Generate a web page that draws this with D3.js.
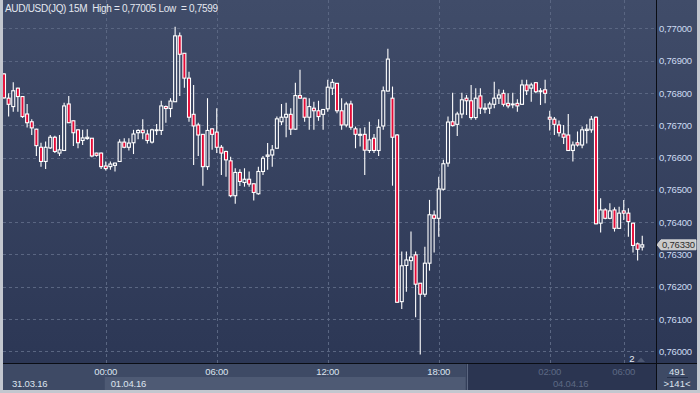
<!DOCTYPE html>
<html>
<head>
<meta charset="utf-8">
<script src="https://cdn.jsdelivr.net/npm/d3@7"></script>
<style>
body { margin: 0; background: #c3c7cf; }
text { font-family: "Liberation Sans", Arial, sans-serif; }
</style>
</head>
<body>
<div id="chart"></div>
<script>
// AUD/USD 15M candles (index 0 = first visible bar)
var opens = [0.76859,0.76784,0.76758,0.76815,0.76789,0.76735,0.76711,0.76688,0.76632,0.76588,
  0.76630,0.76663,0.76614,0.76622,0.76766,0.76714,0.76686,0.76653,0.76659,0.76660,
  0.76614,0.76614,0.76574,0.76572,0.76576,0.76588,0.76648,0.76632,0.76646,0.76677,
  0.76685,0.76673,0.76648,0.76684,0.76684,0.76758,0.76752,0.76773,0.76977,0.76923,
  0.76846,0.76734,0.76701,0.76672,0.76572,0.76689,0.76679,0.76632,0.76619,0.76590,
  0.76482,0.76554,0.76523,0.76533,0.76519,0.76488,0.76557,0.76604,0.76608,0.76629,
  0.76711,0.76725,0.76734,0.76688,0.76792,0.76784,0.76725,0.76753,0.76745,0.76734,
  0.76751,0.76815,0.76830,0.76745,0.76701,0.76766,0.76689,0.76669,0.76672,0.76622,
  0.76660,0.76622,0.76698,0.76806,0.76784,0.76670,0.76154,0.76266,0.76281,0.76299,
  0.76211,0.76177,0.76273,0.76422,0.76412,0.76502,0.76583,0.76711,0.76703,0.76735,
  0.76784,0.76776,0.76724,0.76791,0.76750,0.76753,0.76765,0.76784,0.76799,0.76768,
  0.76764,0.76768,0.76765,0.76825,0.76815,0.76832,0.76804,0.76810,0.76725,0.76719,
  0.76701,0.76673,0.76670,0.76622,0.76646,0.76639,0.76684,0.76686,0.76725,0.76397,
  0.76438,0.76412,0.76438,0.76381,0.76435,0.76428,0.76397,0.76333,0.76323];
var highs = [0.76862,0.76799,0.76833,0.76816,0.76790,0.76766,0.76719,0.76689,0.76646,0.76650,
  0.76670,0.76668,0.76670,0.76770,0.76791,0.76715,0.76688,0.76686,0.76688,0.76661,
  0.76615,0.76616,0.76588,0.76588,0.76584,0.76657,0.76660,0.76660,0.76686,0.76688,
  0.76719,0.76686,0.76689,0.76704,0.76776,0.76761,0.76784,0.77005,0.76987,0.76924,
  0.76866,0.76825,0.76708,0.76673,0.76784,0.76690,0.76753,0.76639,0.76621,0.76603,
  0.76567,0.76564,0.76567,0.76557,0.76520,0.76572,0.76605,0.76645,0.76639,0.76727,
  0.76766,0.76770,0.76753,0.76832,0.76872,0.76785,0.76784,0.76773,0.76776,0.76750,
  0.76841,0.76843,0.76831,0.76784,0.76773,0.76776,0.76696,0.76691,0.76694,0.76711,
  0.76673,0.76719,0.76820,0.76937,0.76820,0.76673,0.76309,0.76309,0.76371,0.76309,
  0.76212,0.76324,0.76469,0.76436,0.76541,0.76593,0.76727,0.76801,0.76742,0.76801,
  0.76794,0.76825,0.76815,0.76815,0.76768,0.76773,0.76835,0.76812,0.76810,0.76799,
  0.76801,0.76781,0.76841,0.76841,0.76832,0.76833,0.76815,0.76841,0.76745,0.76726,
  0.76715,0.76701,0.76735,0.76650,0.76681,0.76696,0.76703,0.76729,0.76727,0.76474,
  0.76443,0.76459,0.76446,0.76448,0.76469,0.76443,0.76398,0.76337,0.76358];
var lows = [0.76782,0.76727,0.76742,0.76742,0.76723,0.76693,0.76670,0.76605,0.76572,0.76565,
  0.76627,0.76614,0.76605,0.76621,0.76707,0.76636,0.76629,0.76639,0.76655,0.76601,
  0.76603,0.76565,0.76560,0.76562,0.76557,0.76587,0.76629,0.76622,0.76611,0.76657,
  0.76657,0.76644,0.76644,0.76670,0.76670,0.76708,0.76725,0.76772,0.76791,0.76816,
  0.76711,0.76577,0.76605,0.76513,0.76562,0.76624,0.76614,0.76546,0.76541,0.76477,
  0.76457,0.76512,0.76510,0.76510,0.76467,0.76485,0.76546,0.76562,0.76572,0.76628,
  0.76701,0.76663,0.76670,0.76686,0.76783,0.76711,0.76686,0.76686,0.76714,0.76686,
  0.76742,0.76794,0.76737,0.76686,0.76694,0.76686,0.76629,0.76634,0.76546,0.76614,
  0.76614,0.76605,0.76686,0.76805,0.76513,0.76151,0.76131,0.76185,0.76252,0.76106,
  0.75990,0.76168,0.76250,0.76306,0.76355,0.76498,0.76572,0.76696,0.76667,0.76722,
  0.76732,0.76717,0.76717,0.76735,0.76737,0.76735,0.76753,0.76766,0.76758,0.76753,
  0.76753,0.76742,0.76764,0.76794,0.76773,0.76799,0.76763,0.76768,0.76684,0.76670,
  0.76665,0.76642,0.76621,0.76588,0.76634,0.76629,0.76644,0.76677,0.76394,0.76368,
  0.76409,0.76409,0.76371,0.76380,0.76407,0.76355,0.76306,0.76281,0.76312];
var closes = [0.76785,0.76765,0.76807,0.76789,0.76727,0.76708,0.76692,0.76637,0.76588,0.76632,
  0.76663,0.76619,0.76624,0.76760,0.76708,0.76677,0.76646,0.76661,0.76663,0.76605,
  0.76607,0.76572,0.76566,0.76580,0.76583,0.76648,0.76632,0.76645,0.76673,0.76684,
  0.76677,0.76653,0.76686,0.76686,0.76760,0.76752,0.76775,0.76977,0.76920,0.76846,
  0.76725,0.76698,0.76670,0.76572,0.76684,0.76672,0.76632,0.76614,0.76593,0.76482,
  0.76554,0.76526,0.76533,0.76518,0.76492,0.76557,0.76598,0.76608,0.76624,0.76720,
  0.76725,0.76734,0.76688,0.76792,0.76784,0.76725,0.76758,0.76745,0.76727,0.76749,
  0.76818,0.76833,0.76745,0.76701,0.76766,0.76694,0.76672,0.76672,0.76623,0.76655,
  0.76622,0.76694,0.76807,0.76905,0.76663,0.76152,0.76265,0.76283,0.76292,0.76208,
  0.76177,0.76273,0.76423,0.76412,0.76503,0.76581,0.76710,0.76699,0.76735,0.76779,
  0.76776,0.76724,0.76784,0.76753,0.76753,0.76766,0.76784,0.76794,0.76765,0.76760,
  0.76766,0.76760,0.76825,0.76807,0.76825,0.76804,0.76807,0.76799,0.76719,0.76703,
  0.76677,0.76663,0.76622,0.76639,0.76639,0.76686,0.76688,0.76719,0.76395,0.76438,
  0.76412,0.76435,0.76381,0.76428,0.76428,0.76402,0.76328,0.76316,0.76330];

// time axis: candle index of each tick and its label
var timeTickIdx = [22, 46, 70, 94, 118, 134];
var timeTickLabels = ["00:00", "06:00", "12:00", "18:00", "02:00", "06:00"];
var priceTicks = [0.760, 0.761, 0.762, 0.763, 0.764, 0.765, 0.766, 0.767, 0.768, 0.769, 0.770];
var dateLabels = ["31.03.16", "01.04.16", "04.04.16"];
var dayStartIdx = [22, 100];   // 01.04 box starts, dark (04.04) part starts
var lastPrice = 0.76330;

var W = 700, H = 393;
var plot = {left: 3, top: 0, right: 656, bottom: 363};

var svg = d3.select("#chart")
    .append("svg")
    .attr("width", W)
    .attr("height", H);

var defs = svg.append("defs");
var grad = defs.append("linearGradient")
    .attr("id", "bg")
    .attr("gradientUnits", "userSpaceOnUse")
    .attr("x1", 0).attr("y1", 0).attr("x2", 0).attr("y2", 363);
grad.append("stop").attr("offset", "0%").attr("stop-color", "#404c69");
grad.append("stop").attr("offset", "100%").attr("stop-color", "#2c3755");

defs.append("clipPath").attr("id", "clip")
    .append("rect")
    .attr("x", plot.left).attr("y", plot.top)
    .attr("width", plot.right - plot.left).attr("height", plot.bottom - plot.top);

// outer frame
svg.append("rect").attr("width", W).attr("height", H).attr("fill", "#c3c7cf");

// plot + price panel background
svg.append("rect")
    .attr("x", 3).attr("y", 0)
    .attr("width", 694).attr("height", 363)
    .attr("fill", "url(#bg)");

var x = d3.scaleLinear()
    .domain([0, opens.length - 1])
    .range([4, 642.25]);

var y = d3.scaleLinear()
    .domain([0.75964, 0.77088])
    .range([plot.bottom, plot.top]);

// grid
svg.append("g")
    .selectAll("line")
    .data(priceTicks)
    .enter()
    .append("line")
    .attr("x1", plot.left).attr("x2", plot.right)
    .attr("y1", function(d) { return Math.round(y(d)) + 0.5; })
    .attr("y2", function(d) { return Math.round(y(d)) + 0.5; })
    .attr("stroke", "#5a6682")
    .attr("stroke-dasharray", "3,3");

svg.append("g")
    .selectAll("line")
    .data(timeTickIdx)
    .enter()
    .append("line")
    .attr("x1", function(d) { return Math.round(x(d)) + 0.5; })
    .attr("x2", function(d) { return Math.round(x(d)) + 0.5; })
    .attr("y1", plot.top).attr("y2", plot.bottom)
    .attr("stroke", "#5a6682")
    .attr("stroke-dasharray", "3,3");

// candles
var candles = svg.append("g").attr("clip-path", "url(#clip)")
    .selectAll("g")
    .data(d3.range(opens.length))
    .enter()
    .append("g");

candles.append("line")
    .attr("x1", function(i) { return x(i); })
    .attr("x2", function(i) { return x(i); })
    .attr("y1", function(i) { return y(highs[i]); })
    .attr("y2", function(i) { return y(lows[i]); })
    .attr("stroke", "#ffffff")
    .attr("stroke-width", 1.1);

candles.append("rect")
    .attr("x", function(i) { return x(i) - 1.5; })
    .attr("y", function(i) { return y(Math.max(opens[i], closes[i])); })
    .attr("width", 3)
    .attr("height", function(i) { return Math.max(0.8, Math.abs(y(opens[i]) - y(closes[i]))); })
    .attr("fill", function(i) { return closes[i] < opens[i] ? "#e50a36" : "url(#bg)"; })
    .attr("stroke", "#ffffff")
    .attr("stroke-width", 1.1);

// title
svg.append("text")
    .attr("x", 5).attr("y", 12)
    .attr("fill", "#e4e8f0")
    .style("font-size", "10px")
    .style("letter-spacing", "-0.3px")
    .style("white-space", "pre")
    .text("AUD/USD(JQ) 15M  High = 0,77005 Low  = 0,7599");

// price axis
var yAxis = svg.append("g")
    .attr("transform", "translate(656,0)")
    .call(d3.axisRight(y).tickValues(priceTicks).tickSize(0).tickPadding(3)
        .tickFormat(function(d) { return d.toFixed(5).replace(".", ","); }));
yAxis.select(".domain").remove();
yAxis.selectAll("text")
    .attr("fill", "#cddbf2")
    .style("font-size", "9.5px")
    .style("letter-spacing", "-0.2px")
    .style("font-family", "Liberation Sans, Arial, sans-serif");

// last price badge
var ly = y(lastPrice);
svg.append("path")
    .attr("d", "M657," + ly + " L661," + (ly - 5) + " L696," + (ly - 5) + " L696," + (ly + 5) + " L661," + (ly + 5) + " Z")
    .attr("fill", "#c9c9c9")
    .attr("stroke", "#e4e4e4")
    .attr("stroke-width", 0.8);
svg.append("text")
    .attr("x", 662).attr("y", ly + 3.5)
    .attr("fill", "#2d2d2d")
    .style("font-size", "9.5px")
    .style("letter-spacing", "-0.2px")
    .text(d3.format(".5f")(lastPrice).replace(".", ","));

// bar count marker
svg.append("text")
    .attr("x", 632).attr("y", 362)
    .attr("text-anchor", "middle")
    .attr("fill", "#e8ecf4")
    .style("font-size", "9.5px")
    .text("2");
svg.append("path")
    .attr("d", "M637,362 L641,357.5 L645,362 Z")
    .attr("fill", "#4c5772");

// time strip
svg.append("rect").attr("x", 3).attr("y", 364).attr("width", 653).attr("height", 26).attr("fill", "#3e4a65");
svg.append("rect")
    .attr("x", x(dayStartIdx[0]) - 1).attr("y", 377)
    .attr("width", x(dayStartIdx[1]) - x(dayStartIdx[0])).attr("height", 13)
    .attr("fill", "#4e5a74");
svg.append("rect")
    .attr("x", x(dayStartIdx[1])).attr("y", 364)
    .attr("width", 656 - x(dayStartIdx[1])).attr("height", 26)
    .attr("fill", "#2b3551");
svg.append("line")
    .attr("x1", Math.round(x(dayStartIdx[1])) + 0.5).attr("x2", Math.round(x(dayStartIdx[1])) + 0.5)
    .attr("y1", 364).attr("y2", 390)
    .attr("stroke", "#5b6680");

svg.append("g")
    .selectAll("text")
    .data(timeTickIdx)
    .enter()
    .append("text")
    .attr("x", function(d) { return x(d); })
    .attr("y", 375)
    .attr("text-anchor", "middle")
    .attr("fill", function(d) { return d >= dayStartIdx[1] ? "#5d6984" : "#dde4ef"; })
    .style("font-size", "9.5px")
    .style("letter-spacing", "-0.2px")
    .text(function(d, i) { return timeTickLabels[i]; });

svg.append("g")
    .selectAll("text")
    .data(dateLabels)
    .enter()
    .append("text")
    .attr("x", function(d, i) { return [12, x(dayStartIdx[0]) + 5, 553][i]; })
    .attr("y", 387)
    .attr("fill", function(d, i) { return i == 2 ? "#5d6984" : "#dde4ef"; })
    .style("font-size", "9.5px")
    .style("letter-spacing", "-0.2px")
    .text(function(d) { return d; });

// right bottom box
svg.append("rect").attr("x", 657).attr("y", 364).attr("width", 40).attr("height", 26).attr("fill", "#3e4a65");
svg.append("text").attr("x", 677).attr("y", 374.5).attr("text-anchor", "middle")
    .attr("fill", "#dde4ef").style("font-size", "9.5px").text("491");
svg.append("line").attr("x1", 667).attr("x2", 688).attr("y1", 377.5).attr("y2", 377.5)
    .attr("stroke", "#25304a");
svg.append("text").attr("x", 677).attr("y", 387).attr("text-anchor", "middle")
    .attr("fill", "#dde4ef").style("font-size", "9.5px").text(">141<");

// separators
svg.append("line").attr("x1", 656.5).attr("x2", 656.5).attr("y1", 0).attr("y2", 390)
    .attr("stroke", "#0a0d14");
svg.append("line").attr("x1", 3).attr("x2", 697).attr("y1", 363.5).attr("y2", 363.5)
    .attr("stroke", "#0a0d14");
</script>
</body>
</html>
